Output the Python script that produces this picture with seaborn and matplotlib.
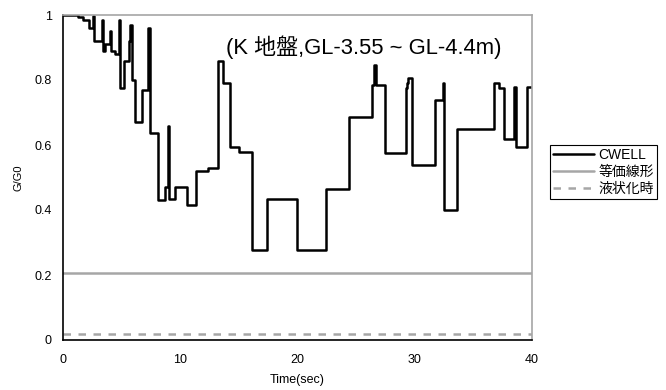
import numpy as np
import pandas as pd
import matplotlib
matplotlib.use("Agg")
import matplotlib.pyplot as plt
import seaborn as sns

# CWELL step series (time in sec, G/G0)
t_cwell = [0, 1.28, 1.7, 2.2, 2.56, 2.65, 3.3, 3.4, 3.6, 4.0, 4.1, 4.4, 4.8, 4.9,
           5.2, 5.63, 5.71, 5.88, 6.14, 6.73, 7.25, 7.42, 8.1, 8.7, 8.95, 9.05,
           9.55, 10.57, 11.34, 12.36, 13.2, 13.64, 14.24, 15.0, 16.1, 17.4, 19.95,
           22.4, 24.4, 26.35, 26.5, 26.7, 27.45, 29.25, 29.35, 29.4, 29.75, 31.7,
           32.4, 32.5, 33.6, 36.8, 37.2, 37.6, 38.5, 38.65, 39.6, 40.0]
g_cwell = [1.0, 0.995, 0.985, 0.96, 0.997, 0.92, 0.985, 0.89, 0.91, 0.95, 0.89, 0.88, 0.985, 0.775,
           0.86, 0.92, 0.97, 0.80, 0.67, 0.77, 0.96, 0.636, 0.43, 0.47, 0.66, 0.435,
           0.47, 0.415, 0.52, 0.53, 0.86, 0.79, 0.594, 0.58, 0.277, 0.434, 0.277,
           0.464, 0.686, 0.785, 0.846, 0.785, 0.575, 0.775, 0.79, 0.805, 0.54, 0.74,
           0.79, 0.40, 0.65, 0.79, 0.775, 0.62, 0.78, 0.594, 0.78, 0.78]

t_span = [0, 40]
g_linear = [0.206, 0.206]   # 等価線形
g_liq = [0.02, 0.02]        # 液状化時

df = pd.DataFrame({"t": t_cwell, "g": g_cwell})

sns.set_style("white")
plt.rcParams["font.family"] = ["Liberation Sans", "Noto Sans CJK JP", "DejaVu Sans"]
plt.rcParams["text.color"] = "black"
plt.rcParams["axes.labelcolor"] = "black"

fig = plt.figure(figsize=(6.66, 3.9), dpi=100)
ax = fig.add_axes([63 / 666, 50 / 390, 469 / 666, 325 / 390])

sns.lineplot(data=df, x="t", y="g", ax=ax, color="black", linewidth=1.8,
             drawstyle="steps-post", label="CWELL", estimator=None, sort=False)
sns.lineplot(x=t_span, y=g_linear, ax=ax, color="#a6a6a6", linewidth=1.8, label="等価線形")
sns.lineplot(x=t_span, y=g_liq, ax=ax, color="#a6a6a6", linewidth=1.8,
             linestyle=(0, (3, 3)), label="液状化時")

ax.set_xlim(0, 40)
ax.set_ylim(0, 1)
ax.set_xticks([0, 10, 20, 30, 40])
ax.set_yticks([0, 0.2, 0.4, 0.6, 0.8, 1.0])
ax.set_yticklabels(["0", "0.2", "0.4", "0.6", "0.8", "1"])
ax.tick_params(direction="in", length=4, width=1, labelsize=9, colors="black")
ax.tick_params(axis="x", pad=10)
ax.tick_params(axis="y", pad=8)

for s in ["left", "bottom"]:
    ax.spines[s].set_color("black")
    ax.spines[s].set_linewidth(1.2)
for s in ["top", "right"]:
    ax.spines[s].set_color("#a6a6a6")
    ax.spines[s].set_linewidth(1.2)

ax.set_xlabel("Time(sec)", fontsize=9, labelpad=6)
ax.set_ylabel("G/G0", fontsize=8, labelpad=8)

ax.text(0.348, 0.9, "(K 地盤,GL-3.55 ~ GL-4.4m)", transform=ax.transAxes,
        fontsize=15.8, va="center", ha="left", color="black")

leg = ax.legend(loc="upper left", bbox_to_anchor=(1.038, 0.6), fontsize=10,
                frameon=True, fancybox=False, framealpha=1, edgecolor="black",
                handlelength=3.0, handletextpad=0.3, borderpad=0.2, labelspacing=0.22,
                borderaxespad=0)
leg.get_frame().set_linewidth(0.8)
for txt in leg.get_texts():
    txt.set_color("black")

fig.savefig("out.png", dpi=100)
